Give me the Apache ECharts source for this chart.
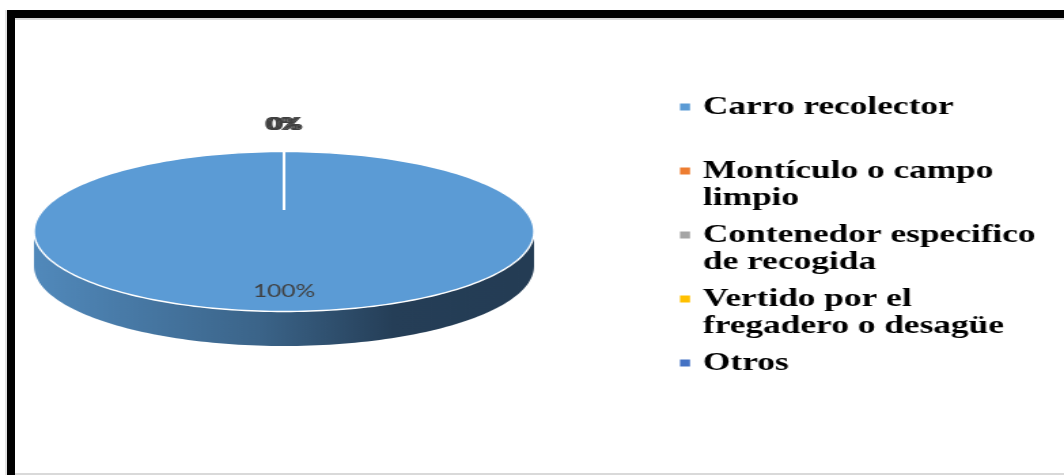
<!DOCTYPE html>
<html>
<head>
<meta charset="utf-8">
<script src="https://cdn.jsdelivr.net/npm/echarts@6/dist/echarts.min.js"></script>
<style>
  html, body { margin: 0; padding: 0; background: #fff; }
  body { width: 1064px; height: 475px; position: relative; overflow: hidden; }
  /* black frame: heavy top and left rules with a thin grey edge */
  #frameTop { position: absolute; left: 7px; top: 10px; width: 1057px; height: 8px; background: #000; }
  #frameTopEdge { position: absolute; left: 15px; top: 18px; width: 1049px; height: 2px; background: #d9d9d9; }
  #frameLeft { position: absolute; left: 7px; top: 10px; width: 8px; height: 465px; background: #000; }
  #frameLeftEdge { position: absolute; left: 5px; top: 10px; width: 2px; height: 465px; background: #e3e3e3; }
  #frameBottom { position: absolute; left: 15px; top: 473px; width: 1049px; height: 2px; background: #d9d9d9; }
  /* the chart is laid out narrow and widened horizontally */
  #chart { position: absolute; left: 0; top: 0; width: 783px; height: 475px;
           transform: scaleX(1.3589); transform-origin: 0 0; }
</style>
</head>
<body>
<div id="frameLeftEdge"></div>
<div id="frameTop"></div>
<div id="frameTopEdge"></div>
<div id="frameLeft"></div>
<div id="frameBottom"></div>
<div id="chart"></div>
<script>
// Destination of household waste, share of answers (%)
const categories = [
  'Carro recolector',
  'Montículo o campo limpio',
  'Contenedor especifico de recogida',
  'Vertido por el fregadero o desagüe',
  'Otros'
];
const values = [100, 0, 0, 0, 0];
const colors = ['#5B9BD5', '#ED7D31', '#A5A5A5', '#FFC000', '#4472C4'];
// legend text as it wraps in the key
const legendLabels = [
  'Carro recolector',
  'Montículo o campo\nlimpio',
  'Contenedor especifico\nde recogida',
  'Vertido por el\nfregadero o desagüe',
  'Otros'
];

const total = values.reduce((a, b) => a + b, 0);
const cumStart = [];
const cumEnd = [];
values.reduce((acc, v, i) => { cumStart.push(acc); cumEnd.push(acc + v); return acc + v; }, 0);

// labels of empty slices all sit at the same spot; spread them a little
const zeroIdx = values.map((v, i) => (v === 0 ? i : -1)).filter(i => i >= 0);

// 3D look: thickness of the disc (px) and the perspective hub on the top face
const DEPTH = 34.5;
const HUB_Y = 0.27;
const STEPS = 240;

const sideGradient = () => new echarts.graphic.LinearGradient(0, 0, 1, 0, [
  { offset: 0, color: '#5189bb' },
  { offset: 0.45, color: '#3b6489' },
  { offset: 0.72, color: '#253e57' },
  { offset: 1, color: '#243c54' }
]);

function renderSlice(params, api) {
  const s = api.value(0), e = api.value(1);
  const v = e - s;
  const a0 = Math.PI / 2 - s / total * 2 * Math.PI;
  const a1 = Math.PI / 2 - e / total * 2 * Math.PI;
  const color = api.visual('color');
  const rim = t => api.coord([Math.cos(t), Math.sin(t)]);
  const children = [];

  // front wall: the part of the rim lying on the near half of the disc
  for (let k = -1; k <= 1; k++) {
    const lo = Math.max(a1, -Math.PI + 2 * Math.PI * k);
    const hi = Math.min(a0, 2 * Math.PI * k);
    if (hi - lo > 1e-6) {
      const pts = [];
      const n = Math.max(2, Math.ceil((hi - lo) / (2 * Math.PI) * STEPS));
      for (let j = 0; j <= n; j++) pts.push(rim(hi - (hi - lo) * j / n));
      for (let j = n; j >= 0; j--) {
        const p = rim(hi - (hi - lo) * j / n);
        pts.push([p[0], p[1] + DEPTH]);
      }
      children.push({ type: 'polygon', shape: { points: pts },
        style: { fill: sideGradient(), stroke: null } });
    }
  }

  // top face
  const hub = api.coord([0, HUB_Y]);
  const top = [hub];
  const n = Math.max(1, Math.ceil((a0 - a1) / (2 * Math.PI) * STEPS));
  for (let j = 0; j <= n; j++) top.push(rim(a0 - (a0 - a1) * j / n));
  if (v > 0) {
    children.push({ type: 'polygon', shape: { points: top },
      style: { fill: color, stroke: '#fff', lineWidth: 1.4 } });
  } else {
    children.push({ type: 'polyline', shape: { points: [hub, rim(a0)] },
      style: { stroke: '#fff', lineWidth: 1.4, fill: null } });
  }

  // percentage label
  const share = v / total;
  const mid = (a0 + a1) / 2;
  const r = share < 0.05 ? 1.34 : 0.75;
  const lp = api.coord([Math.cos(mid) * r, Math.sin(mid) * r]);
  let dx = 0;
  const zk = zeroIdx.indexOf(params.seriesIndex);
  if (v === 0 && zk >= 0) dx = (zk - (zeroIdx.length - 1) / 2) * 1.2;
  children.push({ type: 'text', x: lp[0] + dx, y: lp[1], z2: 10,
    style: { text: Math.round(share * 100) + '%', fill: '#404040',
      fontFamily: 'Lato', fontSize: 18, align: 'center', verticalAlign: 'middle' } });

  return { type: 'group', children };
}

const LEGEND_LEFT = 500.4;
const LEGEND_FIRST = 107;
const LEGEND_STEP = 64;
const LINE_H = 27;

const option = {
  animation: false,
  color: colors,
  grid: { left: 25, top: 151.5, width: 368, height: 160 },
  xAxis: { type: 'value', min: -1, max: 1, show: false },
  yAxis: { type: 'value', min: -1, max: 1, show: false },
  legend: categories.map((name, i) => {
    const lines = legendLabels[i].split('\n').length;
    // an empty leading line keeps the marker level with the first text line
    const text = lines > 1 ? '\n' + legendLabels[i] : legendLabels[i];
    const shown = lines > 1 ? lines + 1 : lines;
    return {
      data: [name],
      orient: 'vertical',
      left: LEGEND_LEFT,
      top: LEGEND_FIRST + i * LEGEND_STEP - shown * LINE_H / 2,
      padding: 0,
      icon: 'rect',
      itemWidth: 7.4,
      itemHeight: 7,
      selectedMode: false,
      formatter: () => text,
      textStyle: {
        fontFamily: 'Liberation Serif', fontWeight: 'bold', fontSize: 26,
        lineHeight: LINE_H, color: '#000',
        padding: [0, 0, 0, 4.5]
      }
    };
  }),
  series: categories.map((name, i) => ({
    type: 'custom',
    name,
    coordinateSystem: 'cartesian2d',
    clip: false,
    silent: true,
    itemStyle: { color: colors[i] },
    data: [[cumStart[i], cumEnd[i]]],
    renderItem: renderSlice
  }))
};

const chart = echarts.init(document.getElementById('chart'));
chart.setOption(option);
</script>
</body>
</html>
